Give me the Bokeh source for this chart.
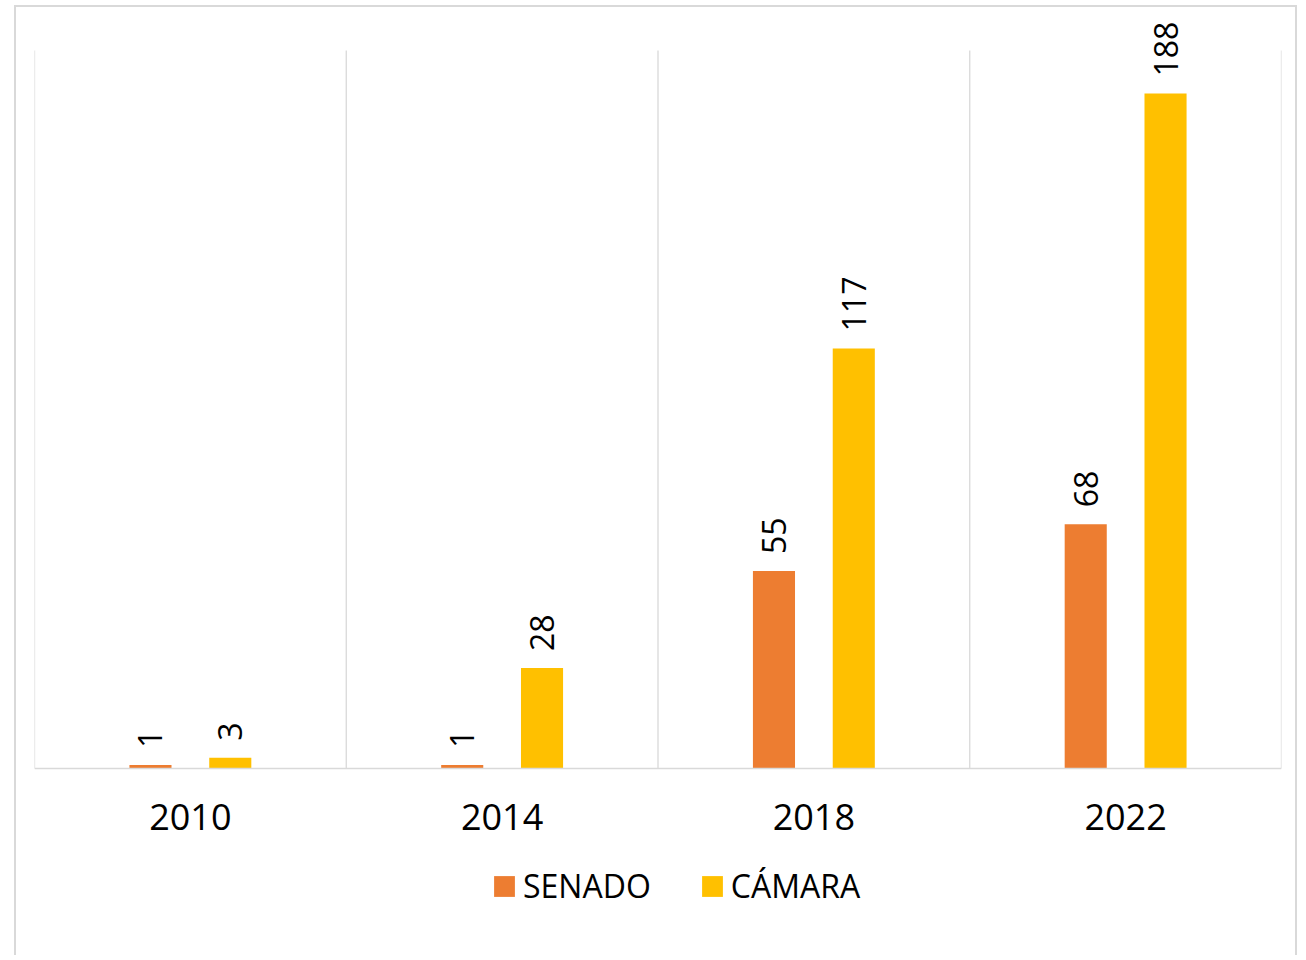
import math
from bokeh.plotting import figure
from bokeh.models import (Range1d, FixedTicker, Legend, LegendItem, ColumnDataSource,
                          LabelSet)
from bokeh.transform import dodge
from bokeh.core.properties import value
from bokeh.embed import file_html
from bokeh.resources import INLINE

years = ["2010", "2014", "2018", "2022"]
senado = [1, 1, 55, 68]
camara = [3, 28, 117, 188]
y_max = 200          # value axis maximum (top of the category separators)
y_headroom = 210     # room above for the rotated labels

FONT = "Open Sans"
GRID = "#d9d9d9"

# frame geometry: the frame also holds the axis labels and the legend
FRAME_H = 943
BASE_PX = 754                      # baseline distance from frame top
y_min = y_headroom - FRAME_H * y_headroom / BASE_PX

xpos = [i + 0.5 for i in range(len(years))]
src = ColumnDataSource(dict(
    x=xpos, senado=senado, camara=camara,
    senado_lbl=[str(v) for v in senado],
    camara_lbl=[str(v) for v in camara],
))

p = figure(
    width=1283, height=950,
    x_range=Range1d(0, len(years)), y_range=Range1d(y_min, y_headroom),
    output_backend="svg", toolbar_location=None,
    y_axis_location=None, title=None,
    min_border_left=18, min_border_right=18, min_border_top=7, min_border_bottom=0,
    background_fill_color="white", border_fill_color="white",
    outline_line_color=None,
)
p.styles = {
    "border-top": "2px solid #d9d9d9",
    "border-left": "2px solid #d9d9d9",
    "border-right": "2px solid #d9d9d9",
    "margin-left": "14px",
    "margin-top": "5px",
}

# category separators
bounds = list(range(len(years) + 1))
p.segment(x0=bounds, y0=[0] * len(bounds), x1=bounds, y1=[y_max] * len(bounds),
          line_color=GRID, line_width=1.3)

off = 0.128
bw = 0.135
r1 = p.vbar(x=dodge("x", -off, range=p.x_range), top="senado", width=bw,
            source=src, fill_color="#ED7D31", line_color=None)
r2 = p.vbar(x=dodge("x", off, range=p.x_range), top="camara", width=bw,
            source=src, fill_color="#FFC000", line_color=None)

for col, lbl, o in (("senado", "senado_lbl", -off), ("camara", "camara_lbl", off)):
    p.add_layout(LabelSet(x=dodge("x", o, range=p.x_range), y=col, text=lbl, source=src,
                          angle=math.pi / 2, text_align="left", text_baseline="middle",
                          y_offset=17, text_font=value(FONT), text_font_size="32px",
                          text_color="black"))

ax = p.xaxis[0]
ax.fixed_location = 0
ax.ticker = FixedTicker(ticks=xpos)
ax.major_label_overrides = {x: y for x, y in zip(xpos, years)}
ax.axis_line_color = GRID
ax.axis_line_width = 1.5
ax.major_tick_line_color = None
ax.minor_tick_line_color = None
ax.major_label_text_font = FONT
ax.major_label_text_font_size = "36px"
ax.major_label_text_color = "black"
ax.major_label_standoff = 29

p.xgrid.visible = False
p.ygrid.visible = False

legend = Legend(
    items=[LegendItem(label="SENADO", renderers=[r1]),
           LegendItem(label="CÁMARA", renderers=[r2])],
    orientation="horizontal", location=(457, 50),
    glyph_width=26, glyph_height=26, label_standoff=6, spacing=48,
    label_text_font=FONT, label_text_font_size="32px", label_text_color="black",
    border_line_color=None, background_fill_alpha=0, padding=0, margin=0,
)
p.add_layout(legend, "center")

open("out.html", "w").write(file_html(p, INLINE))
